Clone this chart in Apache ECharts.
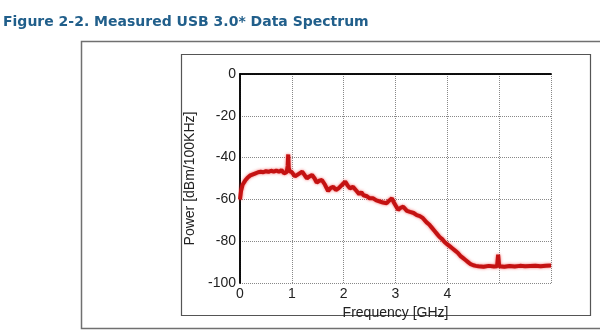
<!DOCTYPE html>
<html>
<head>
<meta charset="utf-8">
<script src="https://cdn.jsdelivr.net/npm/echarts@6/dist/echarts.min.js"></script>
<style>
html,body{margin:0;padding:0;background:#fff;}
#c{width:600px;height:331px;}
</style>
</head>
<body>
<div id="c"></div>
<script>
const titleText = 'Figure 2-2. Measured USB 3.0* Data Spectrum';
const xName = 'Frequency [GHz]';
const yName = 'Power [dBm/100KHz]';
const xTicks = [0, 1, 2, 3, 4, 5, 6];
const yTicks = [-100, -80, -60, -40, -20, 0];

const freqGHz = [
  0, 0.02, 0.05, 0.1, 0.15, 0.2, 0.25, 0.3, 0.35, 0.4, 0.45, 0.5, 0.55, 0.6, 0.65, 0.7, 0.75, 0.8, 0.85, 0.9,
  0.92, 0.93, 0.94, 0.96, 1.0, 1.06, 1.12, 1.2, 1.25, 1.29, 1.34, 1.39, 1.44, 1.48, 1.53, 1.58, 1.64, 1.7, 1.75, 1.8,
  1.85, 1.9, 1.97, 2.03, 2.08, 2.12, 2.18, 2.25, 2.3, 2.34, 2.38, 2.45, 2.5, 2.57, 2.63, 2.7, 2.76, 2.83, 2.88, 2.93,
  2.98, 3.05, 3.1, 3.15, 3.22, 3.28, 3.35, 3.41, 3.47, 3.53, 3.6, 3.65, 3.7, 3.75,
  3.8, 3.85, 3.9, 3.95, 4.0, 4.05, 4.1, 4.15, 4.2, 4.25, 4.3, 4.35, 4.4, 4.45, 4.5, 4.55, 4.6, 4.7, 4.8, 4.9,
  4.96, 4.98, 5.0, 5.1, 5.2, 5.3, 5.4, 5.5, 5.6, 5.7, 5.8, 5.9, 6.0
];
const powerDbm = [
  -60, -56, -53, -51, -49.5, -48.5, -48, -47.5, -47, -46.8, -47, -46.5, -46.8, -46.3, -46.7, -46.2, -46.8, -46, -47.5, -47,
  -44, -38.5, -45, -46.5, -47, -49, -48, -46.7, -48.5, -50, -49, -48.3, -50, -52, -51, -50.7, -53, -56, -54.5, -54,
  -55.5, -54.7, -53, -51.5, -53.5, -54.7, -54, -56, -57.5, -56.5, -58, -58.5, -59.5, -59.5, -60.5, -61, -61.5, -61.8, -60.5, -59.5,
  -62, -65, -64, -63.5, -65.5, -66, -66.5, -67.5, -68, -69, -71, -72, -73.5, -75,
  -76.5, -78, -79, -80.5, -81.5, -82.5, -83.5, -84.5, -85.5, -87, -88, -89, -90, -91, -91.5, -91.8, -92, -92.2, -91.8, -92.1,
  -92, -86.5, -92, -92.2, -91.9, -92.1, -91.8, -92, -91.9, -91.8, -92, -91.7, -91.6
];

const chart = echarts.init(document.getElementById('c'), null, {renderer: 'canvas'});
const labelFont = {fontFamily: 'Liberation Sans, Arial, sans-serif', fontSize: 14, color: '#222'};

chart.setOption({
  animation: false,
  backgroundColor: '#fff',
  title: {
    text: titleText, left: 3, top: 15, padding: 0,
    textStyle: {fontFamily: 'DejaVu Sans, Verdana, sans-serif', fontWeight: 'bold', fontSize: 14, color: '#215f8b'}
  },
  graphic: [
    {type: 'rect', shape: {x: 81.5, y: 41.5, width: 540, height: 287}, style: {fill: 'none', stroke: '#707070', lineWidth: 1.5}, z: -1},
    {type: 'rect', shape: {x: 181.5, y: 54.5, width: 409, height: 261}, style: {fill: 'none', stroke: '#555', lineWidth: 1.2}, z: -1}
  ],
  grid: {left: 240, top: 74, right: 49, bottom: 48, containLabel: false},
  xAxis: [{
    type: 'value', min: 0, max: 6, interval: 1, position: 'bottom',
    name: xName, nameLocation: 'middle', nameGap: 10,
    nameTextStyle: labelFont,
    axisLine: {lineStyle: {color: '#000', width: 1.5}},
    axisTick: {show: false},
    axisLabel: Object.assign({margin: 4, formatter: v => (v <= 4 ? String(v) : '')}, labelFont),
    splitLine: {show: true, lineStyle: {color: '#888', type: 'dotted', width: 1}}
  }, {
    type: 'value', min: 0, max: 6, interval: 1, position: 'top',
    axisLine: {lineStyle: {color: '#000', width: 1.5}},
    axisTick: {show: false},
    axisLabel: {show: false}, splitLine: {show: false}
  }],
  yAxis: [{
    type: 'value', min: -100, max: 0, interval: 20, position: 'left',
    name: yName, nameLocation: 'middle', nameGap: 39, nameRotate: 90,
    nameTextStyle: labelFont,
    axisLine: {lineStyle: {color: '#000', width: 1.5}},
    axisTick: {show: false},
    axisLabel: Object.assign({margin: 4}, labelFont),
    splitLine: {show: true, lineStyle: {color: '#888', type: 'dotted', width: 1}}
  }, {
    type: 'value', min: -100, max: 0, interval: 20, position: 'right',
    axisLine: {lineStyle: {color: '#000', width: 1.5}},
    axisTick: {show: false},
    axisLabel: {show: false}, splitLine: {show: false}
  }],
  series: [{
    type: 'line', xAxisIndex: 0, yAxisIndex: 0,
    data: freqGHz.map((f, i) => [f, powerDbm[i]]),
    showSymbol: false, symbol: 'none',
    lineStyle: {color: '#c41212', width: 4, shadowColor: 'rgba(240,40,40,0.7)', shadowBlur: 3}
  }]
});
</script>
</body>
</html>
